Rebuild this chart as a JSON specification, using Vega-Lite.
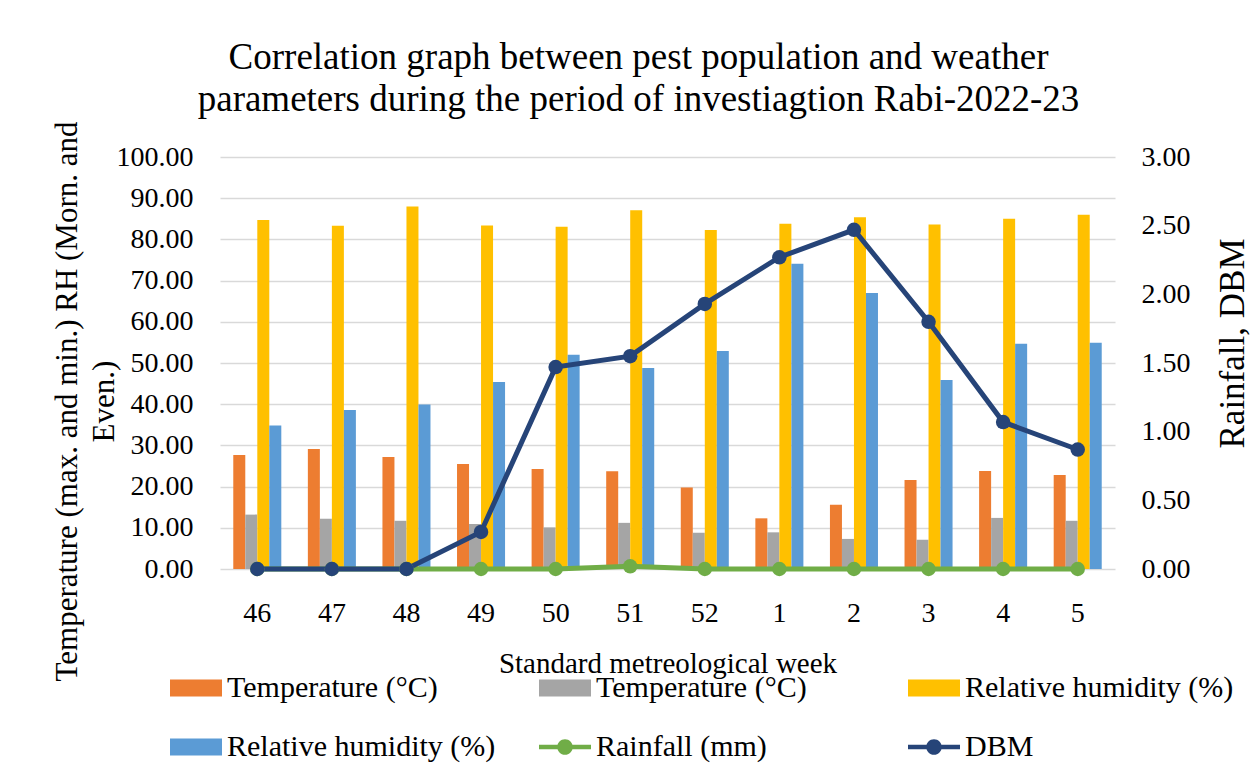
{
  "$schema": "https://vega.github.io/schema/vega-lite/v6.json",
  "width": 895,
  "height": 412,
  "autosize": {"type": "none"},
  "padding": {"left": 220, "top": 157, "right": 138, "bottom": 209},
  "background": "white",
  "config": {"font": "Liberation Serif", "view": {"stroke": null}},
  "title": {
    "text": ["Correlation graph between pest population and weather", "parameters during the period of investiagtion Rabi-2022-23"],
    "fontSize": 37, "fontWeight": "normal", "lineHeight": 42, "color": "#000000",
    "anchor": "middle", "frame": "group", "dx": -29, "dy": 73, "offset": 38, "baseline": "bottom"
  },
  "data": {"values": [
    {"week": "46", "s": "Tmax", "v": 27.7}, {"week": "47", "s": "Tmax", "v": 29.1}, {"week": "48", "s": "Tmax", "v": 27.2}, {"week": "49", "s": "Tmax", "v": 25.5}, {"week": "50", "s": "Tmax", "v": 24.3}, {"week": "51", "s": "Tmax", "v": 23.7}, {"week": "52", "s": "Tmax", "v": 19.8}, {"week": "1", "s": "Tmax", "v": 12.3}, {"week": "2", "s": "Tmax", "v": 15.6}, {"week": "3", "s": "Tmax", "v": 21.6}, {"week": "4", "s": "Tmax", "v": 23.8}, {"week": "5", "s": "Tmax", "v": 22.8},
    {"week": "46", "s": "Tmin", "v": 13.2}, {"week": "47", "s": "Tmin", "v": 12.2}, {"week": "48", "s": "Tmin", "v": 11.7}, {"week": "49", "s": "Tmin", "v": 10.9}, {"week": "50", "s": "Tmin", "v": 10.1}, {"week": "51", "s": "Tmin", "v": 11.2}, {"week": "52", "s": "Tmin", "v": 8.8}, {"week": "1", "s": "Tmin", "v": 8.9}, {"week": "2", "s": "Tmin", "v": 7.3}, {"week": "3", "s": "Tmin", "v": 7.1}, {"week": "4", "s": "Tmin", "v": 12.4}, {"week": "5", "s": "Tmin", "v": 11.7},
    {"week": "46", "s": "RHm", "v": 84.7}, {"week": "47", "s": "RHm", "v": 83.3}, {"week": "48", "s": "RHm", "v": 88.0}, {"week": "49", "s": "RHm", "v": 83.4}, {"week": "50", "s": "RHm", "v": 83.1}, {"week": "51", "s": "RHm", "v": 87.1}, {"week": "52", "s": "RHm", "v": 82.3}, {"week": "1", "s": "RHm", "v": 83.8}, {"week": "2", "s": "RHm", "v": 85.4}, {"week": "3", "s": "RHm", "v": 83.6}, {"week": "4", "s": "RHm", "v": 85.0}, {"week": "5", "s": "RHm", "v": 86.0},
    {"week": "46", "s": "RHe", "v": 34.8}, {"week": "47", "s": "RHe", "v": 38.6}, {"week": "48", "s": "RHe", "v": 39.9}, {"week": "49", "s": "RHe", "v": 45.4}, {"week": "50", "s": "RHe", "v": 52.0}, {"week": "51", "s": "RHe", "v": 48.8}, {"week": "52", "s": "RHe", "v": 52.9}, {"week": "1", "s": "RHe", "v": 74.1}, {"week": "2", "s": "RHe", "v": 67.0}, {"week": "3", "s": "RHe", "v": 45.9}, {"week": "4", "s": "RHe", "v": 54.7}, {"week": "5", "s": "RHe", "v": 54.9},
    {"week": "46", "s": "Rain", "v": 0}, {"week": "47", "s": "Rain", "v": 0}, {"week": "48", "s": "Rain", "v": 0}, {"week": "49", "s": "Rain", "v": 0}, {"week": "50", "s": "Rain", "v": 0}, {"week": "51", "s": "Rain", "v": 0.02}, {"week": "52", "s": "Rain", "v": 0}, {"week": "1", "s": "Rain", "v": 0}, {"week": "2", "s": "Rain", "v": 0}, {"week": "3", "s": "Rain", "v": 0}, {"week": "4", "s": "Rain", "v": 0}, {"week": "5", "s": "Rain", "v": 0},
    {"week": "46", "s": "DBM", "v": 0}, {"week": "47", "s": "DBM", "v": 0}, {"week": "48", "s": "DBM", "v": 0}, {"week": "49", "s": "DBM", "v": 0.27}, {"week": "50", "s": "DBM", "v": 1.47}, {"week": "51", "s": "DBM", "v": 1.55}, {"week": "52", "s": "DBM", "v": 1.93}, {"week": "1", "s": "DBM", "v": 2.27}, {"week": "2", "s": "DBM", "v": 2.47}, {"week": "3", "s": "DBM", "v": 1.80}, {"week": "4", "s": "DBM", "v": 1.07}, {"week": "5", "s": "DBM", "v": 0.87}
  ]},
  "encoding": {
    "x": {
      "field": "week", "type": "nominal",
      "scale": {"domain": ["46", "47", "48", "49", "50", "51", "52", "1", "2", "3", "4", "5"], "paddingInner": 0.356, "paddingOuter": 0.178},
      "axis": {
        "title": "Standard metreological week", "titleFontSize": 29, "titleFontWeight": "normal", "titleColor": "#000000", "titlePadding": 22,
        "labelFontSize": 28, "labelColor": "#000000", "labelPadding": 30, "labelAngle": 0,
        "domain": false, "ticks": false, "grid": false
      }
    }
  },
  "layer": [
    {
      "transform": [{"filter": "indexof(['Tmax','Tmin','RHm','RHe'], datum.s) >= 0"}],
      "mark": {"type": "bar"},
      "encoding": {
        "xOffset": {"field": "s", "type": "nominal", "scale": {"domain": ["Tmax", "Tmin", "RHm", "RHe"], "paddingInner": 0, "paddingOuter": 0}},
        "y": {
          "field": "v", "type": "quantitative",
          "scale": {"domain": [0, 100], "nice": false},
          "axis": {
            "orient": "left",
            "title": ["Temperature (max. and min.) RH (Morn. and", "Even.)"],
            "titleFontSize": 31, "titleFontWeight": "normal", "titleColor": "#000000", "titlePadding": -4, "titleLineHeight": 37, "titleY": 244,
            "values": [0, 10, 20, 30, 40, 50, 60, 70, 80, 90, 100], "format": ".2f",
            "labelFontSize": 28, "labelColor": "#000000", "labelPadding": 27,
            "grid": true, "gridColor": "#d9d9d9", "gridWidth": 1.5, "domain": false, "ticks": false
          }
        },
        "color": {
          "field": "s", "type": "nominal",
          "scale": {"domain": ["Tmax", "Tmin", "RHm", "RHe", "Rain", "DBM"], "range": ["#ed7d31", "#a5a5a5", "#ffc000", "#5b9bd5", "#70ad47", "#264478"]},
          "legend": {
            "orient": "none", "legendX": -50, "legendY": 505, "columns": 3, "direction": "horizontal", "title": null,
            "gridAlign": "all", "columnPadding": 43, "rowPadding": 18,
            "labelFontSize": 30, "labelColor": "#000000", "labelLimit": 500, "labelOffset": 5,
            "labelExpr": "datum.value == 'Tmax' || datum.value == 'Tmin' ? 'Temperature (°C)' : datum.value == 'RHm' || datum.value == 'RHe' ? 'Relative humidity (%)' : datum.value == 'Rain' ? 'Rainfall (mm)' : 'DBM'",
            "symbolSize": 2704, "symbolStrokeWidth": 0, "symbolType": "M-1,-0.33L1,-0.33L1,0.33L-1,0.33Z",
            "encode": {
              "symbols": {
                "update": {
                  "shape": {"signal": "datum.value == 'Rain' || datum.value == 'DBM' ? 'M-1,-0.09L-0.27,-0.09L-0.27,0.09L-1,0.09Z M0.27,-0.09L1,-0.09L1,0.09L0.27,0.09Z M-0.3,0A0.3,0.3 0 1,1 0.3,0A0.3,0.3 0 1,1 -0.3,0Z' : 'M-1,-0.33L1,-0.33L1,0.33L-1,0.33Z'"},
                  "fill": {"scale": "color", "field": "value"},
                  "fillOpacity": {"value": 1},
                  "opacity": {"value": 1},
                  "strokeWidth": {"value": 0}
                }
              }
            }
          }
        }
      }
    },
    {
      "transform": [{"filter": "datum.s == 'Rain' || datum.s == 'DBM'"}],
      "mark": {"type": "line", "strokeWidth": 5, "point": {"size": 210, "filled": true, "opacity": 1}},
      "encoding": {
        "y": {
          "field": "v", "type": "quantitative",
          "scale": {"domain": [0, 3], "nice": false},
          "axis": {
            "orient": "right", "title": "Rainfall, DBM", "titleFontSize": 35, "titleFontWeight": "normal", "titleColor": "#000000",
            "titleAngle": 270, "titlePadding": 60, "titleY": 186,
            "values": [0, 0.5, 1, 1.5, 2, 2.5, 3], "format": ".2f",
            "labelFontSize": 28, "labelColor": "#000000", "labelPadding": 26,
            "grid": false, "domain": false, "ticks": false
          }
        },
        "color": {"field": "s", "type": "nominal"},
        "order": {"field": "s", "sort": "descending"}
      }
    }
  ],
  "resolve": {"scale": {"y": "independent"}}
}
